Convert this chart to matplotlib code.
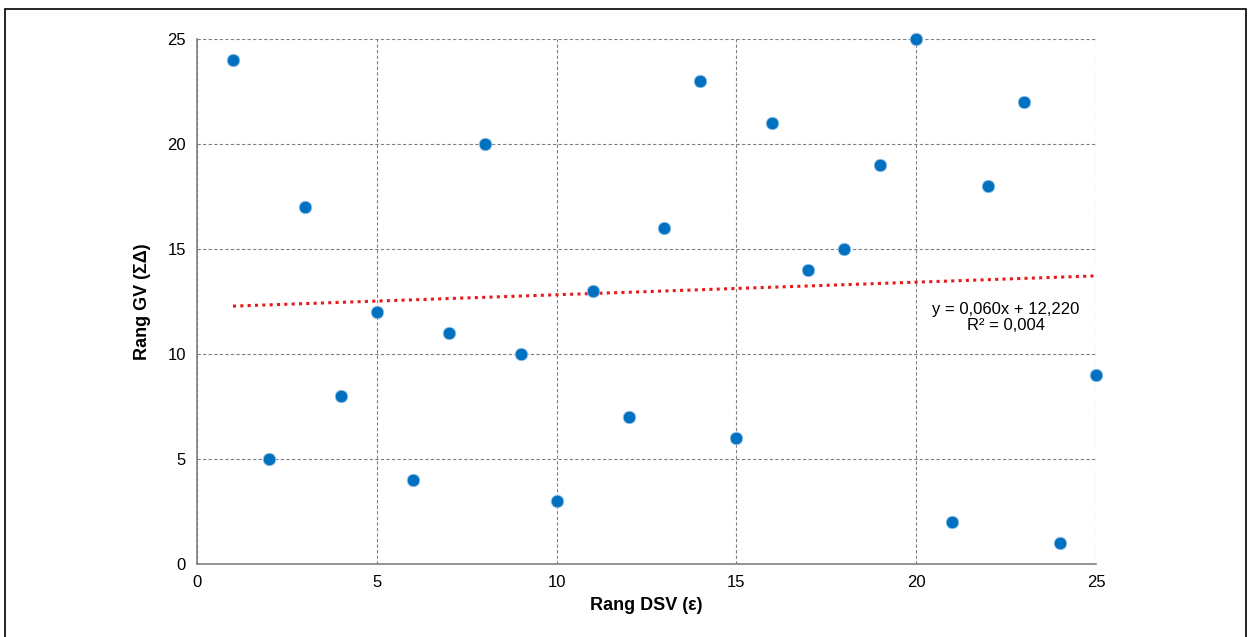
import numpy as np
import matplotlib
matplotlib.use("Agg")
import matplotlib.pyplot as plt
from matplotlib.patches import Rectangle

plt.rcParams['font.family'] = ['Liberation Sans', 'DejaVu Sans']

# ranks
rang_dsv = [1, 2, 3, 4, 5, 6, 7, 8, 9, 10, 11, 12, 13, 14, 15, 16, 17, 18, 19, 20, 21, 22, 23, 24, 25]
rang_gv = [24, 5, 17, 8, 12, 4, 11, 20, 10, 3, 13, 7, 16, 23, 6, 21, 14, 15, 19, 25, 2, 18, 22, 1, 9]
x_ticks = [0, 5, 10, 15, 20, 25]
y_ticks = [0, 5, 10, 15, 20, 25]

fig = plt.figure(figsize=(12.51, 6.37), dpi=100)
ax = fig.add_axes([0.1575, 0.1146, 0.7186, 0.8242])

# outer frame
fig.patches.append(Rectangle((0.004, -0.05), 0.992, 1.036, transform=fig.transFigure,
                             fill=False, edgecolor='black', linewidth=1.2))

ax.grid(True, color='#808080', linestyle=(0, (3, 2)), linewidth=0.8)
ax.set_axisbelow(True)

ax.plot(rang_dsv, rang_gv, 'o', color='#0070C0', markersize=9,
        markeredgecolor='#9DC3E6', markeredgewidth=0.6, zorder=3, clip_on=False)

# linear trend
a, b = np.polyfit(rang_dsv, rang_gv, 1)
xs = np.array([rang_dsv[0], rang_dsv[-1]])
ax.plot(xs, a * xs + b, color='#E8191B', linestyle=(0, (1, 1.4)), linewidth=2.2, zorder=2)
r2 = np.corrcoef(rang_dsv, rang_gv)[0, 1] ** 2
eq = "y = {:.3f}x + {:.3f}\nR² = {:.3f}".format(a, b, r2).replace('.', ',')
ax.text(22.5, 11.75, eq, ha='center', va='center', fontsize=12, linespacing=1.05)

ax.set_xlim(0, 25)
ax.set_ylim(0, 25)
ax.set_xticks(x_ticks)
ax.set_yticks(y_ticks)
ax.tick_params(length=0, labelsize=12, pad=8)
for s in ['top', 'right']:
    ax.spines[s].set_visible(False)
for s in ['left', 'bottom']:
    ax.spines[s].set_color('#808080')
    ax.spines[s].set_linewidth(1.2)

ax.set_xlabel("Rang DSV (ε)", fontsize=13, fontweight='bold', labelpad=5)
ax.set_ylabel("Rang GV (ΣΔ)", fontsize=13, fontweight='bold', labelpad=12)

fig.savefig("out.png", dpi=100)
